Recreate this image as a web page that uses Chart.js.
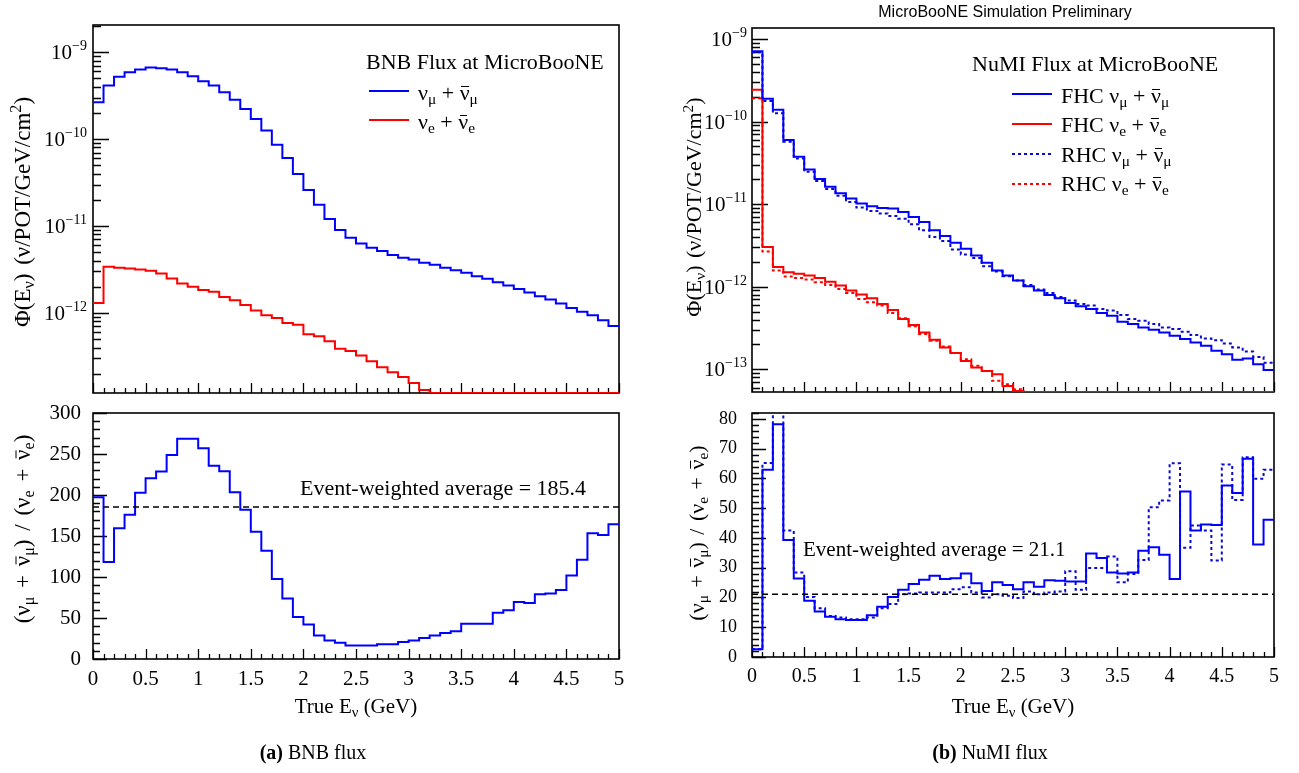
<!DOCTYPE html>
<html>
<head>
<meta charset="utf-8">
<script src="https://cdn.jsdelivr.net/npm/chart.js@4.4.1/dist/chart.umd.min.js"></script>
<style>
  body { margin: 0; width: 1299px; height: 773px; position: relative; background: #fff; overflow: hidden;
         font-family: "Liberation Serif", "Times New Roman", serif; color: #000; }
  canvas { position: absolute; }
  .t { position: absolute; white-space: nowrap; line-height: 1; }
  .l { transform: translateY(-50%); }
  .c { transform: translate(-50%, -50%); }
  .v { transform: translate(-50%, -50%) rotate(-90deg); font-size: 23px; word-spacing: 3px; }
  .vr { font-size: 22px; word-spacing: 2px; }
  sub { font-size: 70%; vertical-align: -0.28em; line-height: 0; }
  sup { font-size: 70%; vertical-align: 0.55em; line-height: 0; }
  .bar { display: inline-block; position: relative; line-height: 1; }
  .bar::after { content: ''; position: absolute; left: 0.06em; right: 0.04em; top: 0.2em; border-top: 1.5px solid currentColor; }
  .ln { position: absolute; height: 2px; width: 40px; }
</style>
</head>
<body>
<canvas id="bnbFlux" width="630" height="388" style="left:0;top:12px"></canvas>
<canvas id="bnbRatio" width="633" height="317" style="left:0;top:383px"></canvas>
<canvas id="numiFlux" width="645" height="385" style="left:640px;top:15px"></canvas>
<canvas id="numiRatio" width="648" height="317" style="left:640px;top:383px"></canvas>

<!-- left figure text -->
<div class="t v" style="left:22px;top:212px">&Phi;(E<sub>&nu;</sub>) (&nu;/POT/GeV/cm<sup>2</sup>)</div>
<div class="t v" style="left:22px;top:529px">(&nu;<sub>&mu;</sub> + <span class="bar">&nu;</span><sub>&mu;</sub>) / (&nu;<sub>e</sub> + <span class="bar">&nu;</span><sub>e</sub>)</div>
<div class="t c" style="left:356px;top:706px;font-size:21px">True E<sub>&nu;</sub> (GeV)</div>
<div class="t l" style="left:366px;top:62px;font-size:22px">BNB Flux at MicroBooNE</div>
<div class="ln" style="left:369px;top:90px;background:#0000ff"></div>
<div class="t l" style="left:418px;top:93px;font-size:22px">&nu;<sub>&mu;</sub> + <span class="bar">&nu;</span><sub>&mu;</sub></div>
<div class="ln" style="left:369px;top:119px;background:#ff0000"></div>
<div class="t l" style="left:418px;top:122px;font-size:22px">&nu;<sub>e</sub> + <span class="bar">&nu;</span><sub>e</sub></div>
<div class="t l" style="left:300px;top:488px;font-size:22px">Event-weighted average = 185.4</div>
<div class="t c" style="left:313px;top:752px;font-size:20px"><b>(a)</b> BNB flux</div>

<!-- right figure text -->
<div class="t c" style="left:1005px;top:12px;font-size:16px;font-family:'Liberation Sans',Arial,sans-serif">MicroBooNE Simulation Preliminary</div>
<div class="t v vr" style="left:694px;top:207px">&Phi;(E<sub>&nu;</sub>) (&nu;/POT/GeV/cm<sup>2</sup>)</div>
<div class="t v vr" style="left:697px;top:533px">(&nu;<sub>&mu;</sub> + <span class="bar">&nu;</span><sub>&mu;</sub>) / (&nu;<sub>e</sub> + <span class="bar">&nu;</span><sub>e</sub>)</div>
<div class="t c" style="left:1013px;top:706px;font-size:21px">True E<sub>&nu;</sub> (GeV)</div>
<div class="t l" style="left:972px;top:64px;font-size:22px">NuMI Flux at MicroBooNE</div>
<div class="ln" style="left:1012px;top:93px;background:#0000ff"></div>
<div class="t l" style="left:1061px;top:96px;font-size:22px">FHC &nu;<sub>&mu;</sub> + <span class="bar">&nu;</span><sub>&mu;</sub></div>
<div class="ln" style="left:1012px;top:123px;background:#ff0000"></div>
<div class="t l" style="left:1061px;top:125px;font-size:22px">FHC &nu;<sub>e</sub> + <span class="bar">&nu;</span><sub>e</sub></div>
<div class="ln" style="left:1012px;top:153px;background:repeating-linear-gradient(90deg,#0a0ad0 0 3px,transparent 3px 6px)"></div>
<div class="t l" style="left:1061px;top:155px;font-size:22px">RHC &nu;<sub>&mu;</sub> + <span class="bar">&nu;</span><sub>&mu;</sub></div>
<div class="ln" style="left:1012px;top:183px;background:repeating-linear-gradient(90deg,#ff0000 0 3px,transparent 3px 6px)"></div>
<div class="t l" style="left:1061px;top:184px;font-size:22px">RHC &nu;<sub>e</sub> + <span class="bar">&nu;</span><sub>e</sub></div>
<div class="t l" style="left:803px;top:549px;font-size:21px">Event-weighted average = 21.1</div>
<div class="t c" style="left:990px;top:752px;font-size:20px"><b>(b)</b> NuMI flux</div>

<script>
// bin edges in true neutrino energy (GeV), 50 bins of 0.1 GeV
const energyEdges = [0, 0.1, 0.2, 0.3, 0.4, 0.5, 0.6, 0.7, 0.8, 0.9, 1.0, 1.1, 1.2, 1.3, 1.4, 1.5, 1.6, 1.7, 1.8, 1.9,
  2.0, 2.1, 2.2, 2.3, 2.4, 2.5, 2.6, 2.7, 2.8, 2.9, 3.0, 3.1, 3.2, 3.3, 3.4, 3.5, 3.6, 3.7, 3.8, 3.9,
  4.0, 4.1, 4.2, 4.3, 4.4, 4.5, 4.6, 4.7, 4.8, 4.9, 5.0];
const xTicks = [0, 0.5, 1, 1.5, 2, 2.5, 3, 3.5, 4, 4.5, 5];
const bnbRatioTicks = [0, 50, 100, 150, 200, 250, 300];
const numiRatioTicks = [0, 10, 20, 30, 40, 50, 60, 70, 80];

// BNB flux (nu/POT/GeV/cm2)
const bnbNumu = [2.65e-10, 4.12e-10, 5.19e-10, 5.88e-10, 6.31e-10, 6.65e-10, 6.54e-10, 6.31e-10, 5.88e-10, 5.28e-10,
  4.63e-10, 4.12e-10, 3.45e-10, 2.84e-10, 2.22e-10, 1.70e-10, 1.25e-10, 8.61e-11, 6.04e-11, 3.95e-11,
  2.60e-11, 1.75e-11, 1.20e-11, 9.0e-12, 7.33e-12, 6.31e-12, 5.62e-12, 5.15e-12, 4.63e-12, 4.31e-12,
  4.12e-12, 3.77e-12, 3.58e-12, 3.30e-12, 3.10e-12, 2.90e-12, 2.65e-12, 2.47e-12, 2.26e-12, 2.07e-12,
  1.89e-12, 1.72e-12, 1.56e-12, 1.43e-12, 1.28e-12, 1.14e-12, 1.03e-12, 9.4e-13, 8.22e-13, 7.08e-13];
const bnbNue = [1.30e-12, 3.40e-12, 3.30e-12, 3.25e-12, 3.16e-12, 3.05e-12, 2.84e-12, 2.49e-12, 2.18e-12, 2.00e-12,
  1.83e-12, 1.75e-12, 1.53e-12, 1.40e-12, 1.23e-12, 1.07e-12, 9.4e-13, 8.75e-13, 7.67e-13, 7.33e-13,
  5.68e-13, 5.38e-13, 4.71e-13, 3.87e-13, 3.65e-13, 3.25e-13, 2.79e-13, 2.38e-13, 2.08e-13, 1.83e-13,
  1.56e-13, 1.30e-13, 1.2e-13, 1.2e-13, 1.2e-13, 1.2e-13, 1.2e-13, 1.2e-13, 1.2e-13, 1.2e-13,
  1.2e-13, 1.2e-13, 1.2e-13, 1.2e-13, 1.2e-13, 1.2e-13, 1.2e-13, 1.2e-13, 1.2e-13, 1.2e-13];
const bnbRatio = [197.4, 118.3, 159.5, 175.9, 202.7, 220.4, 228.7, 248.9, 268.6, 268.6,
  257.1, 235.7, 229.1, 203.5, 182.1, 155.3, 131.9, 97.7, 73.8, 51.1,
  42.0, 28.8, 22.7, 19.8, 16.5, 16.5, 16.5, 18.1, 18.1, 20.6,
  22.7, 25.5, 28.8, 31.7, 33.8, 42.9, 42.9, 42.9, 56.4, 59.3,
  69.6, 68.4, 79.1, 79.9, 84.1, 101.8, 121.1, 153.3, 151.2, 164.4];
const bnbAverage = 185.4;

// NuMI flux, forward (FHC) and reverse (RHC) horn current
const numiFhcNumu = [7.1e-10, 1.89e-10, 1.39e-10, 5.98e-11, 3.75e-11, 2.63e-11, 2.01e-11, 1.62e-11, 1.35e-11, 1.17e-11,
  1.02e-11, 9.42e-12, 9.0e-12, 8.83e-12, 8.05e-12, 7.0e-12, 6.08e-12, 4.82e-12, 4.11e-12, 3.41e-12,
  2.88e-12, 2.39e-12, 1.95e-12, 1.57e-12, 1.37e-12, 1.19e-12, 1.01e-12, 8.97e-13, 7.95e-13, 7.24e-13,
  6.35e-13, 5.78e-13, 5.37e-13, 4.8e-13, 4.45e-13, 3.76e-13, 3.53e-13, 3.21e-13, 3.01e-13, 2.79e-13,
  2.55e-13, 2.32e-13, 2.11e-13, 1.92e-13, 1.67e-13, 1.52e-13, 1.30e-13, 1.35e-13, 1.15e-13, 9.8e-14];
const numiFhcNue = [2.43e-10, 3.02e-12, 1.73e-12, 1.50e-12, 1.43e-12, 1.37e-12, 1.27e-12, 1.15e-12, 1.03e-12, 8.97e-13,
  8.02e-13, 7.24e-13, 6.18e-13, 5.22e-13, 4.06e-13, 3.43e-13, 2.79e-13, 2.27e-13, 1.84e-13, 1.57e-13,
  1.26e-13, 1.05e-13, 9.55e-14, 8.7e-14, 6.28e-14, 5.46e-14, 5.3e-14, 5.3e-14, 5.3e-14, 5.3e-14,
  5.3e-14, 5.3e-14, 5.3e-14, 5.3e-14, 5.3e-14, 5.3e-14, 5.3e-14, 5.3e-14, 5.3e-14, 5.3e-14,
  5.3e-14, 5.3e-14, 5.3e-14, 5.3e-14, 5.3e-14, 5.3e-14, 5.3e-14, 5.3e-14, 5.3e-14, 5.3e-14];
const numiRhcNumu = [6.9e-10, 1.78e-10, 1.26e-10, 5.71e-11, 3.58e-11, 2.47e-11, 1.90e-11, 1.52e-11, 1.26e-11, 1.06e-11,
  9.08e-12, 8.28e-12, 7.68e-12, 7.19e-12, 6.67e-12, 5.70e-12, 4.82e-12, 4.00e-12, 3.57e-12, 2.83e-12,
  2.46e-12, 2.22e-12, 1.77e-12, 1.53e-12, 1.34e-12, 1.19e-12, 1.05e-12, 9.22e-13, 8.41e-13, 7.52e-13,
  6.78e-13, 6.18e-13, 5.90e-13, 5.37e-13, 5.13e-13, 4.54e-13, 4.06e-13, 3.87e-13, 3.53e-13, 3.21e-13,
  3.07e-13, 2.85e-13, 2.59e-13, 2.36e-13, 2.25e-13, 2.05e-13, 1.84e-13, 1.64e-13, 1.41e-13, 1.20e-13];
const numiRhcNue = [1.92e-10, 2.67e-12, 1.57e-12, 1.33e-12, 1.27e-12, 1.22e-12, 1.13e-12, 1.05e-12, 9.4e-13, 8.41e-13,
  7.11e-13, 6.48e-13, 5.90e-13, 4.80e-13, 4.14e-13, 3.31e-13, 2.67e-13, 2.21e-13, 1.89e-13, 1.57e-13,
  1.32e-13, 1.10e-13, 9.55e-14, 7.23e-14, 6.58e-14, 5.71e-14, 5.3e-14, 5.3e-14, 5.3e-14, 5.3e-14,
  5.3e-14, 5.3e-14, 5.3e-14, 5.3e-14, 5.3e-14, 5.3e-14, 5.3e-14, 5.3e-14, 5.3e-14, 5.3e-14,
  5.3e-14, 5.3e-14, 5.3e-14, 5.3e-14, 5.3e-14, 5.3e-14, 5.3e-14, 5.3e-14, 5.3e-14, 5.3e-14];
const numiFhcRatio = [2.6, 62.9, 78.2, 39.3, 26.4, 18.9, 15.3, 13.5, 12.7, 12.4,
  12.4, 14.0, 16.9, 20.2, 22.6, 24.5, 26.0, 27.3, 26.2, 26.5,
  28.1, 24.8, 22.2, 25.1, 24.2, 22.8, 25.1, 23.6, 25.8, 25.6,
  25.4, 25.4, 34.8, 33.3, 28.4, 28.1, 28.4, 35.7, 36.9, 34.4,
  26.2, 55.6, 42.5, 44.5, 44.4, 57.6, 55.1, 66.6, 37.8, 46.1];
const numiRhcRatio = [2.6, 65.2, 84, 42.5, 28.4, 20.2, 16.4, 13.8, 13.3, 12.7,
  12.7, 13.3, 16.4, 17.8, 21.1, 21.3, 21.7, 21.7, 21.7, 22.8,
  23.4, 21.7, 20.0, 21.1, 20.6, 19.8, 22.0, 21.1, 21.7, 22.0,
  28.8, 22.6, 29.9, 29.9, 33.8, 25.1, 27.9, 32.6, 50.3, 52.6,
  65.1, 36.7, 44.2, 42.5, 32.4, 64.7, 52.8, 67.1, 59.9, 62.9];
const numiAverage = 21.1;

const BLUE = '#0000ff', RED = '#ff0000', DARKBLUE = '#0a0ad0';
const SERIF = '"Liberation Serif", "Times New Roman", serif';
Chart.defaults.font.family = SERIF;
Chart.defaults.color = '#000';

// ROOT-like frame with ticks pointing inwards, and 10^n labels on log axes
const rootAxes = {
  id: 'rootAxes',
  beforeDatasetsDraw(chart, args, o) {
    const { ctx, chartArea: a, scales: { x, y } } = chart;
    ctx.save();
    ctx.strokeStyle = '#000';
    ctx.lineWidth = 1.3;
    ctx.beginPath();
    for (let i = 0; i < energyEdges.length; i++) {
      const px = Math.round(x.getPixelForValue(energyEdges[i])) + 0.5;
      const len = xTicks.includes(energyEdges[i]) ? 10 : 5;
      ctx.moveTo(px, a.bottom);
      ctx.lineTo(px, a.bottom - len);
    }
    if (y.type === 'logarithmic') {
      for (let e = Math.floor(Math.log10(y.min)); e <= Math.ceil(Math.log10(y.max)); e++) {
        for (let m = 1; m <= 9; m++) {
          const v = m * Math.pow(10, e);
          if (v < y.min || v > y.max) continue;
          const py = Math.round(y.getPixelForValue(v)) + 0.5;
          ctx.moveTo(a.left, py);
          ctx.lineTo(a.left + (m === 1 ? 16 : 8), py);
        }
      }
    } else {
      for (let v = 0; v <= y.max + 1e-9; v += o.minor) {
        const py = Math.round(y.getPixelForValue(v)) + 0.5;
        const major = Math.abs(v / o.major - Math.round(v / o.major)) < 1e-6;
        ctx.moveTo(a.left, py);
        ctx.lineTo(a.left + (major ? 14 : 7), py);
      }
    }
    ctx.stroke();
    ctx.lineWidth = 1.6;
    ctx.strokeRect(a.left, a.top, a.width, a.height);

    if (y.type === 'logarithmic') {
      ctx.fillStyle = '#000';
      ctx.textAlign = 'right';
      ctx.textBaseline = 'alphabetic';
      for (let e = Math.ceil(Math.log10(y.min)); e <= Math.floor(Math.log10(y.max)); e++) {
        const py = y.getPixelForValue(Math.pow(10, e));
        const xr = a.left - o.gap;
        const exp = '\u2212' + String(-e);
        ctx.font = '14px ' + SERIF;
        const ew = ctx.measureText(exp).width;
        ctx.fillText(exp, xr, py - 2);
        ctx.font = '21px ' + SERIF;
        ctx.fillText('10', xr - ew, py + 7);
      }
    }
    ctx.restore();
  }
};

function histPoints(values) {
  const pts = values.map((v, i) => ({ x: energyEdges[i], y: v }));
  pts.push({ x: energyEdges[values.length], y: values[values.length - 1] });
  return pts;
}

function hist(values, color, dashed) {
  return {
    data: histPoints(values),
    borderColor: color,
    borderWidth: 2,
    borderDash: dashed ? [3, 3] : [],
    stepped: 'before',
    pointRadius: 0,
    fill: false
  };
}

function averageLine(value) {
  return {
    data: [{ x: energyEdges[0], y: value }, { x: energyEdges[energyEdges.length - 1], y: value }],
    borderColor: '#000',
    borderWidth: 1.5,
    borderDash: [6, 4],
    pointRadius: 0
  };
}

function makePanel(id, datasets, cfg) {
  new Chart(document.getElementById(id), {
    type: 'line',
    data: { datasets },
    options: {
      responsive: false,
      animation: false,
      layout: { padding: { left: 0, top: cfg.padTop, right: cfg.padRight, bottom: 0 } },
      plugins: { legend: { display: false }, tooltip: { enabled: false }, rootAxes: cfg.ticks },
      scales: {
        x: {
          type: 'linear', min: 0, max: 5,
          grid: { display: false, drawTicks: false },
          border: { display: false },
          afterBuildTicks: s => { s.ticks = xTicks.map(v => ({ value: v })); },
          ticks: { display: cfg.showX, font: { size: cfg.xFont || 21 }, padding: 8, maxRotation: 0, autoSkip: false,
                   callback: v => String(v) },
          afterFit: s => { s.height = cfg.xHeight; }
        },
        y: Object.assign({
          grid: { display: false, drawTicks: false },
          border: { display: false },
          afterFit: s => { s.width = cfg.yWidth; }
        }, cfg.y)
      }
    },
    plugins: [rootAxes]
  });
}

makePanel('bnbFlux', [hist(bnbNumu, BLUE), hist(bnbNue, RED)], {
  showX: false, xHeight: 7, yWidth: 93, padTop: 13, padRight: 11,
  ticks: { gap: 6 },
  y: { type: 'logarithmic', min: 1.2e-13, max: 2.05e-9, ticks: { display: false } }
});

makePanel('bnbRatio', [averageLine(bnbAverage), hist(bnbRatio, BLUE)], {
  showX: true, xHeight: 41, yWidth: 93, padTop: 30, padRight: 14,
  ticks: { minor: 10, major: 50 },
  y: { type: 'linear', min: 0, max: 300,
       afterBuildTicks: s => { s.ticks = bnbRatioTicks.map(v => ({ value: v })); },
       ticks: { padding: 12, font: { size: 21 }, callback: v => String(v) } }
});

makePanel('numiFlux', [hist(numiFhcNumu, BLUE), hist(numiFhcNue, RED),
                       hist(numiRhcNumu, DARKBLUE, true), hist(numiRhcNue, RED, true)], {
  showX: false, xHeight: 8, yWidth: 112, padTop: 13, padRight: 11,
  ticks: { gap: 5 },
  y: { type: 'logarithmic', min: 5.3e-14, max: 1.36e-9, ticks: { display: false } }
});

makePanel('numiRatio', [averageLine(numiAverage), hist(numiFhcRatio, BLUE), hist(numiRhcRatio, DARKBLUE, true)], {
  showX: true, xHeight: 43, yWidth: 112, xFont: 20, padTop: 30, padRight: 14,
  ticks: { minor: 2, major: 10 },
  y: { type: 'linear', min: 0, max: 82,
       afterBuildTicks: s => { s.ticks = numiRatioTicks.map(v => ({ value: v })); },
       ticks: { padding: 15, font: { size: 18 }, callback: v => String(v) } }
});
</script>
</body>
</html>
